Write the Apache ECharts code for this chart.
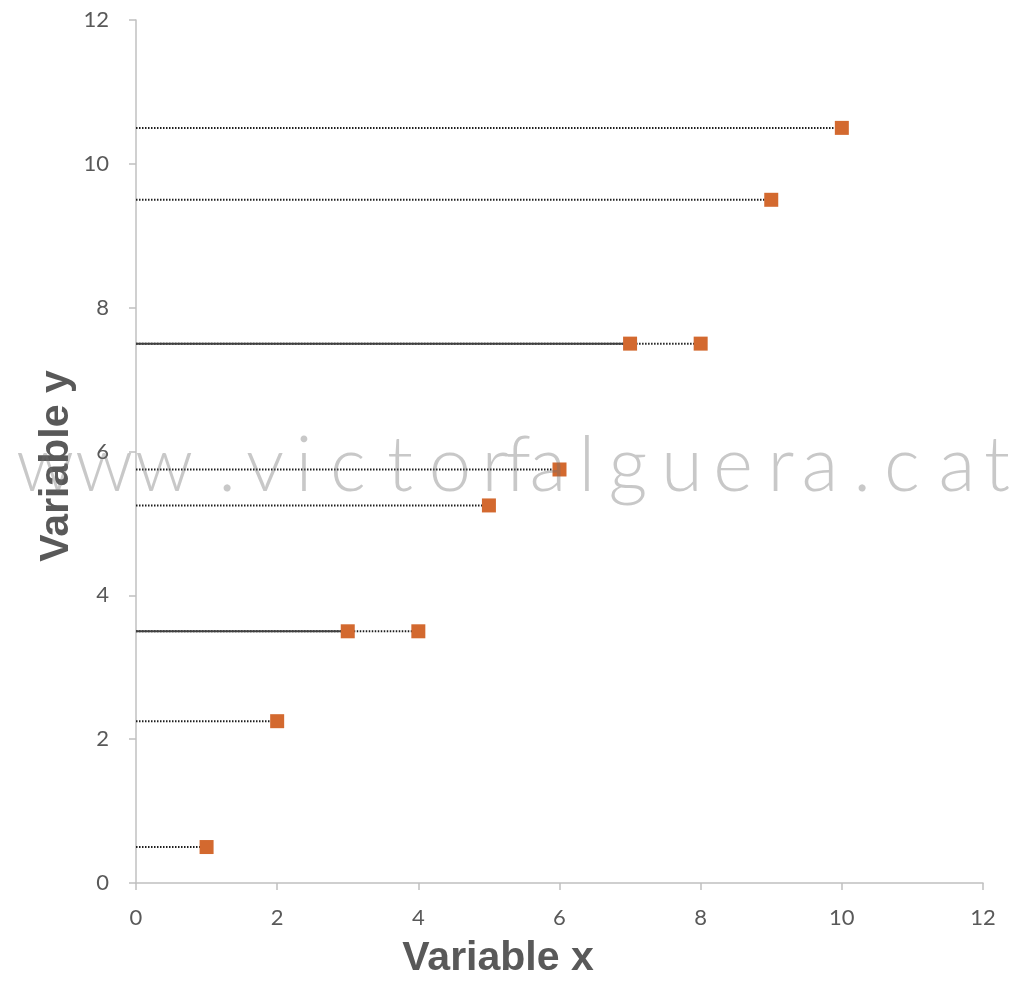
<!DOCTYPE html>
<html>
<head>
<meta charset="utf-8">
<script src="https://cdn.jsdelivr.net/npm/echarts@6/dist/echarts.min.js"></script>
<style>html,body{margin:0;padding:0;background:#fff}#c{width:1024px;height:988px}</style>
</head>
<body>
<div id="c"></div>
<script>
// Data
var xValues = [1, 2, 3, 4, 5, 6, 7, 8, 9, 10];
var yValues = [0.5, 2.25, 3.5, 3.5, 5.25, 5.75, 7.5, 7.5, 9.5, 10.5];
var axisTicks = [0, 2, 4, 6, 8, 10, 12];
var xTitle = 'Variable x';
var yTitle = 'Variable y';
var watermark = 'www.victorfalguera.cat';

var chart = echarts.init(document.getElementById('c'), null, {renderer: 'canvas'});

var series = [];
for (var i = 0; i < xValues.length; i++) {
  var startX = 0;
  if (i > 0 && yValues[i - 1] === yValues[i]) startX = xValues[i - 1];
  series.push({
    type: 'line', silent: true, symbol: 'none', z: 2,
    data: [[startX, yValues[i]], [xValues[i], yValues[i]]],
    lineStyle: {color: '#1e1e1e', width: 2, type: [1.5, 1.5]}
  });
  if (i < xValues.length - 1 && yValues[i + 1] === yValues[i]) {
    series.push({
      type: 'line', silent: true, symbol: 'none', z: 3,
      data: [[0, yValues[i]], [xValues[i], yValues[i]]],
      lineStyle: {color: '#404040', width: 2, type: 'solid'}
    });
  }
}
series.push({
  type: 'scatter', symbol: 'rect', symbolSize: 14, z: 5,
  data: xValues.map(function (x, k) { return [x, yValues[k]]; }),
  itemStyle: {color: '#D3692F', opacity: 1}
});

var wmCenters = [45, 104, 164, 227, 265, 304, 348, 400, 450, 495, 518, 548, 587, 628, 682, 733, 781, 820, 862, 902, 957, 997];
var graphics = [];
for (var j = 0; j < watermark.length; j++) {
  graphics.push({
    type: 'text', z: 100, silent: true,
    x: wmCenters[j], y: 466,
    style: {
      text: watermark.charAt(j), fill: 'rgba(110,110,110,0.38)',
      font: '300 76px Lato, "Open Sans", sans-serif',
      align: 'center', verticalAlign: 'middle'
    }
  });
}
graphics.push({
  type: 'text', x: 498, y: 959, z: 10,
  style: {text: xTitle, fill: '#595959', font: 'bold 41px "Liberation Sans", Arial, sans-serif', align: 'center', verticalAlign: 'middle'}
});
graphics.push({
  type: 'text', x: 57, y: 466, rotation: Math.PI / 2, z: 10,
  style: {text: yTitle, fill: '#595959', font: 'bold 41px "Liberation Sans", Arial, sans-serif', align: 'center', verticalAlign: 'middle'}
});

function axis(margin) {
  return {
    type: 'value', min: axisTicks[0], max: axisTicks[axisTicks.length - 1], interval: axisTicks[1] - axisTicks[0],
    axisLine: {show: true, lineStyle: {color: '#c0c0c0', width: 1.5}},
    axisTick: {show: true, length: 7, lineStyle: {color: '#c0c0c0', width: 1.5}},
    splitLine: {show: false},
    axisLabel: {color: '#595959', fontSize: 22, fontFamily: 'Lato, "Open Sans", sans-serif', margin: margin}
  };
}

chart.setOption({
  animation: false,
  grid: {left: 136, right: 41, top: 20, bottom: 105, containLabel: false},
  xAxis: axis(24),
  yAxis: axis(27),
  series: series,
  graphic: graphics
});
</script>
</body>
</html>
